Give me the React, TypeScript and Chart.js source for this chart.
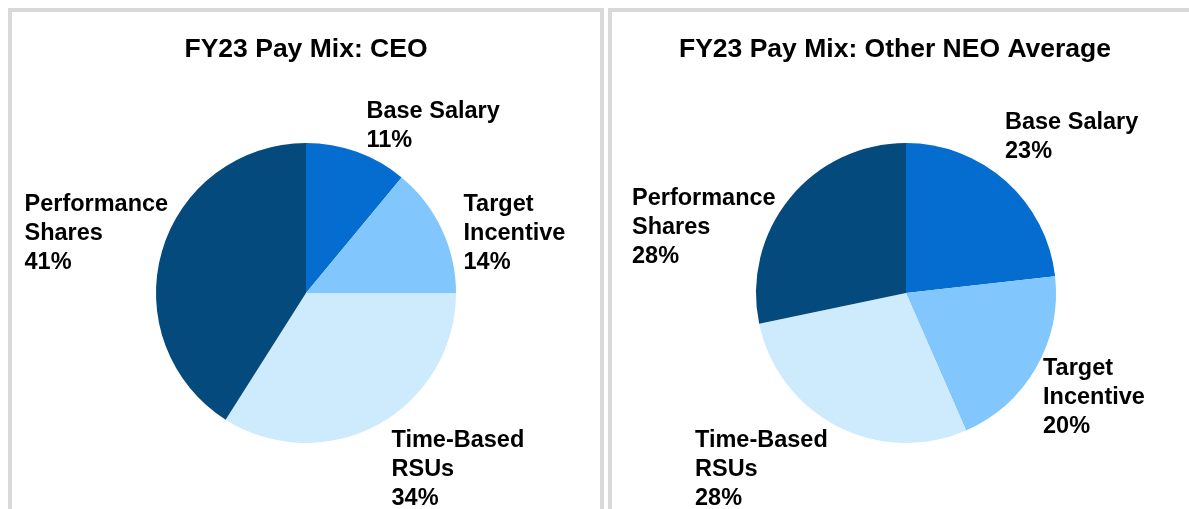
import React, { useEffect, useRef } from "react";
import { Chart, registerables } from "chart.js";

Chart.register(...registerables);

const categories: string[][] = [
  ["Base Salary"],
  ["Target", "Incentive"],
  ["Time-Based", "RSUs"],
  ["Performance", "Shares"],
];
const ceoValues = [11, 14, 34, 41];
const neoValues = [23, 20, 28, 28];
const ceoTitle = "FY23 Pay Mix: CEO";
const neoTitle = "FY23 Pay Mix: Other NEO Average";
const colors = ["#046DCF", "#81C6FC", "#CDEBFD", "#044A7C"];

// label offsets (left x, first line middle y) relative to pie centre
const ceoLabelOffsets = [
  [60.5, -181],
  [157.5, -88],
  [85.5, 148],
  [-281.5, -88],
];
const neoLabelOffsets = [
  [99, -170.5],
  [137, 75.5],
  [-211, 147.5],
  [-274, -94.5],
];

const FONT = '"Liberation Sans", Arial, sans-serif';

type PieProps = {
  values: number[];
  title: string;
  offsets: number[][];
  width: number;
  height: number;
  titleX: number;
  titleY: number;
  padLeft: number;
  padRight: number;
  padTop: number;
  padBottom: number;
};

function PieChart(p: PieProps) {
  const ref = useRef<HTMLCanvasElement | null>(null);
  useEffect(() => {
    if (!ref.current) return;
    const total = p.values.reduce((a, b) => a + b, 0);
    const labelPlugin = {
      id: "labelPlugin",
      afterDraw(chart: any) {
        const ctx = chart.ctx;
        const meta = chart.getDatasetMeta(0);
        const arc0 = meta.data[0];
        const cx = arc0.x;
        const cy = arc0.y;
        ctx.save();
        ctx.fillStyle = "#000";
        ctx.textBaseline = "middle";
        ctx.textAlign = "center";
        ctx.font = `bold 26.5px ${FONT}`;
        ctx.fillText(p.title, p.titleX, p.titleY);
        ctx.textAlign = "left";
        ctx.font = `bold 23.5px ${FONT}`;
        p.values.forEach((v, i) => {
          const lines = [...categories[i], `${Math.round((v / total) * 100)}%`];
          const [dx, dy] = p.offsets[i];
          lines.forEach((ln, j) => {
            ctx.fillText(ln, cx + dx, cy + dy + j * 29);
          });
        });
        ctx.restore();
      },
    };
    const chart = new Chart(ref.current, {
      type: "pie",
      data: {
        labels: categories.map((c) => c.join(" ")),
        datasets: [
          {
            data: p.values,
            backgroundColor: colors,
            borderWidth: 0,
          },
        ],
      },
      options: {
        responsive: false,
        animation: false,
        layout: {
          padding: {
            left: p.padLeft,
            right: p.padRight,
            top: p.padTop,
            bottom: p.padBottom,
          },
        },
        plugins: {
          legend: { display: false },
          tooltip: { enabled: false },
          title: { display: false },
        },
      },
      plugins: [labelPlugin],
    });
    return () => chart.destroy();
  }, []);
  return (
    <canvas
      ref={ref}
      width={p.width}
      height={p.height}
      style={{ display: "block", width: p.width, height: p.height }}
    />
  );
}

export default function App() {
  const boxStyle: React.CSSProperties = {
    position: "absolute",
    top: 8,
    height: 530,
    boxSizing: "border-box",
    border: "4px solid #D9D9D9",
    background: "#fff",
    overflow: "hidden",
  };
  return (
    <div
      style={{
        position: "fixed",
        left: 0,
        top: 0,
        width: 1189,
        height: 509,
        overflow: "hidden",
        background: "#fff",
      }}
    >
      <div style={{ ...boxStyle, left: 8, width: 596 }}>
        <PieChart
          values={ceoValues}
          title={ceoTitle}
          offsets={ceoLabelOffsets}
          width={588}
          height={497}
          titleX={294}
          titleY={38}
          padLeft={0}
          padRight={0}
          padTop={131}
          padBottom={66}
        />
      </div>
      <div style={{ ...boxStyle, left: 608, width: 600 }}>
        <PieChart
          values={neoValues}
          title={neoTitle}
          offsets={neoLabelOffsets}
          width={577}
          height={497}
          titleX={283}
          titleY={38}
          padLeft={11}
          padRight={0}
          padTop={131}
          padBottom={66}
        />
      </div>
    </div>
  );
}
